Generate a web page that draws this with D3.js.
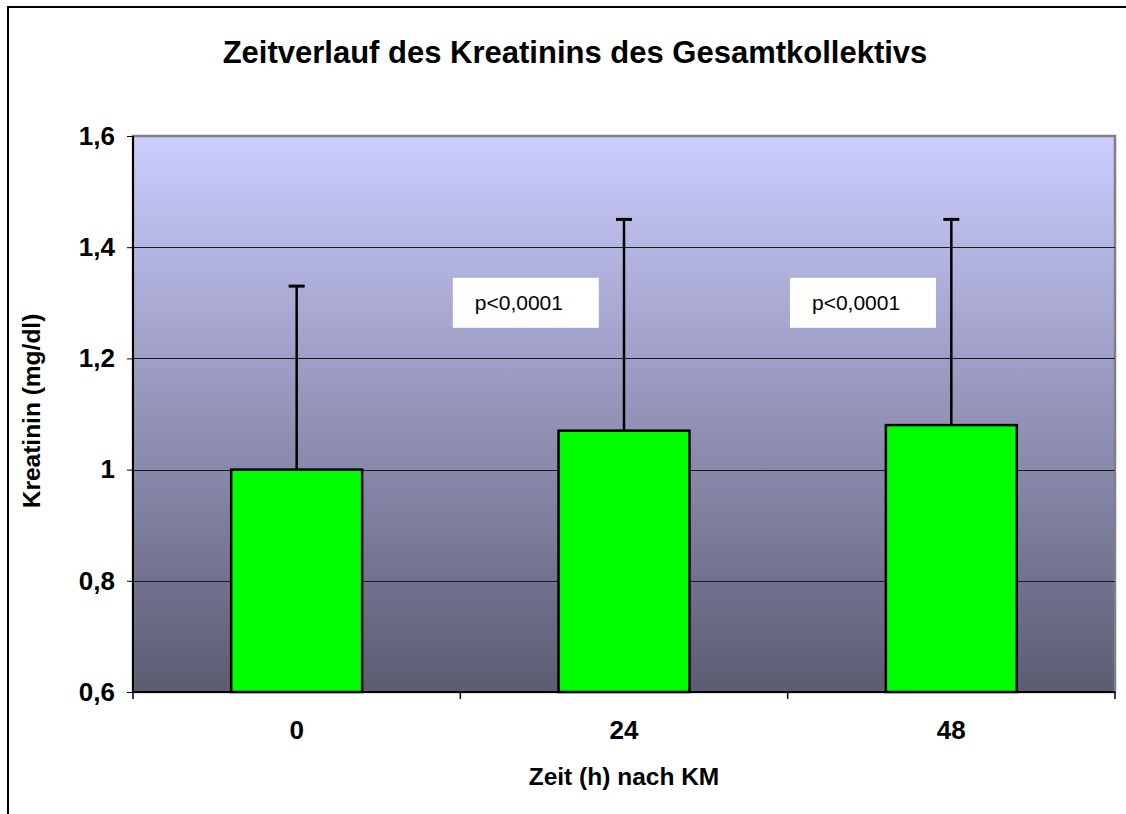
<!DOCTYPE html>
<html>
<head>
<meta charset="utf-8">
<script src="https://cdn.jsdelivr.net/npm/d3@7"></script>
<style>
  body { margin: 0; background: #fff; }
  svg { display: block; font-family: 'Liberation Sans', Arial, sans-serif; }
</style>
</head>
<body>
<div id="chart"></div>
<script>
// data
const categories = ['0', '24', '48']
const means = [1.0, 1.07, 1.08]
const upperErr = [1.33, 1.45, 1.45]
const yTicks = [0.6, 0.8, 1.0, 1.2, 1.4, 1.6]
const pLabels = ['p<0,0001', 'p<0,0001']
const pPosX = [1.2, 2.23]   // in category units
const pPosY = [1.30, 1.30]  // centre of box, in mg/dl

const width = 1126
const height = 814
const margin = {top: 136, right: 11, bottom: 122, left: 133}
const iw = width - margin.left - margin.right
const ih = height - margin.top - margin.bottom

const svg = d3.select('#chart').append('svg')
    .attr('width', width)
    .attr('height', height)

// outer chart border
svg.append('rect')
    .attr('x', 8).attr('y', 7)
    .attr('width', width + 20).attr('height', height + 20)
    .attr('fill', '#fff')
    .attr('stroke', '#000')
    .attr('stroke-width', 2)

const grad = svg.append('defs').append('linearGradient')
    .attr('id', 'bg').attr('x1', 0).attr('y1', 0).attr('x2', 0).attr('y2', 1)
grad.append('stop').attr('offset', '0%').attr('stop-color', '#ccccff')
grad.append('stop').attr('offset', '100%').attr('stop-color', '#5b5b72')

const x = d3.scaleBand()
    .domain(categories)
    .range([0, iw])
    .paddingInner(0.6)
    .paddingOuter(0.3)
const xPos = d3.scaleLinear().domain([0, 3]).range([0, iw])
const y = d3.scaleLinear().domain([0.6, 1.6]).range([ih, 0])

const g = svg.append('g')
    .attr('transform', 'translate(' + margin.left + ',' + margin.top + ')')

// plot area
g.append('rect')
    .attr('width', iw).attr('height', ih)
    .attr('fill', 'url(#bg)')
    .attr('stroke', '#808080')
    .attr('stroke-width', 2.5)

// gridlines
g.selectAll('.grid').data(yTicks.slice(1, -1))
  .enter().append('line')
    .attr('class', 'grid')
    .attr('x1', 0).attr('x2', iw)
    .attr('y1', d => Math.round(y(d)) + 0.5).attr('y2', d => Math.round(y(d)) + 0.5)
    .attr('stroke', '#1a1a1a')
    .attr('stroke-width', 1)

// error bars
g.selectAll('.err').data(categories)
  .enter().append('line')
    .attr('x1', d => x(d) + x.bandwidth() / 2)
    .attr('x2', d => x(d) + x.bandwidth() / 2)
    .attr('y1', (d, i) => y(means[i]))
    .attr('y2', (d, i) => y(upperErr[i]))
    .attr('stroke', '#000').attr('stroke-width', 2.5)
g.selectAll('.cap').data(categories)
  .enter().append('line')
    .attr('x1', d => x(d) + x.bandwidth() / 2 - 8)
    .attr('x2', d => x(d) + x.bandwidth() / 2 + 8)
    .attr('y1', (d, i) => y(upperErr[i]))
    .attr('y2', (d, i) => y(upperErr[i]))
    .attr('stroke', '#000').attr('stroke-width', 3)

// bars
g.selectAll('.bar').data(categories)
  .enter().append('rect')
    .attr('class', 'bar')
    .attr('x', d => x(d))
    .attr('width', x.bandwidth())
    .attr('y', (d, i) => y(means[i]))
    .attr('height', (d, i) => ih - y(means[i]))
    .attr('fill', '#00ff00')
    .attr('stroke', '#000')
    .attr('stroke-width', 2.5)

// p-value boxes
const pg = g.selectAll('.pbox').data(pLabels)
  .enter().append('g')
    .attr('transform', (d, i) => 'translate(' + xPos(pPosX[i]) + ',' + y(pPosY[i]) + ')')
pg.append('rect')
    .attr('x', -73).attr('y', -25)
    .attr('width', 146).attr('height', 50)
    .attr('fill', '#fff')
pg.append('text')
    .attr('x', -51).attr('y', 7)
    .attr('font-size', 21)
    .text(d => d)

// y axis
const yAxis = d3.axisLeft(y)
    .tickValues(yTicks)
    .tickSize(6)
    .tickPadding(12)
    .tickFormat(d => d === 1 ? '1' : d3.format('.1f')(d).replace('.', ','))
const ya = g.append('g').call(yAxis)
ya.select('.domain').attr('stroke', '#000').attr('stroke-width', 2).attr('d', 'M0,0V' + ih)
ya.selectAll('text').attr('font-size', 26).attr('font-weight', 'bold').attr('fill', '#000')
    .attr('font-family', "'Liberation Sans', Arial, sans-serif")

// x axis with ticks between categories
const xa = g.append('g').attr('transform', 'translate(0,' + ih + ')')
xa.append('line').attr('x1', 0).attr('x2', iw).attr('stroke', '#000').attr('stroke-width', 2)
xa.selectAll('.xt').data(d3.range(4))
  .enter().append('line')
    .attr('x1', d => xPos(d)).attr('x2', d => xPos(d))
    .attr('y1', 0).attr('y2', 7)
    .attr('stroke', '#000').attr('stroke-width', 1.5)
xa.selectAll('.xl').data(categories)
  .enter().append('text')
    .attr('x', d => x(d) + x.bandwidth() / 2)
    .attr('y', 47)
    .attr('text-anchor', 'middle')
    .attr('font-size', 26).attr('font-weight', 'bold')
    .text(d => d)

// titles
svg.append('text')
    .attr('x', 575).attr('y', 63)
    .attr('text-anchor', 'middle')
    .attr('font-size', 31).attr('font-weight', 'bold')
    .text('Zeitverlauf des Kreatinins des Gesamtkollektivs')
svg.append('text')
    .attr('x', margin.left + iw / 2).attr('y', 785)
    .attr('text-anchor', 'middle')
    .attr('font-size', 24.5).attr('font-weight', 'bold')
    .text('Zeit (h) nach KM')
svg.append('text')
    .attr('transform', 'translate(40,' + (margin.top + ih / 2 - 3) + ')rotate(-90)')
    .attr('text-anchor', 'middle')
    .attr('font-size', 24.5).attr('font-weight', 'bold')
    .text('Kreatinin (mg/dl)')
</script>
</body>
</html>
